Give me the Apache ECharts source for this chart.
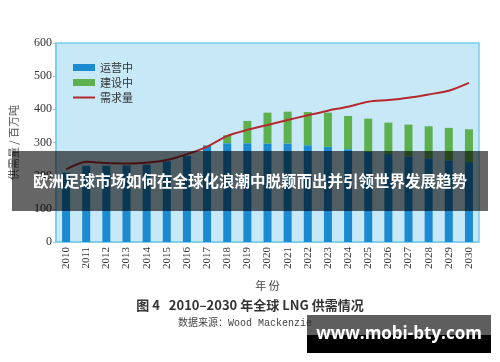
<!DOCTYPE html>
<html>
<head>
<meta charset="utf-8">
<script src="https://cdn.jsdelivr.net/npm/echarts@6/dist/echarts.min.js"></script>
<style>
html,body{margin:0;padding:0;background:#fff;}
#c{width:500px;height:362px;}
</style>
</head>
<body>
<div id="c"></div>
<script>
var years = ['2010','2011','2012','2013','2014','2015','2016','2017','2018','2019','2020','2021','2022','2023','2024','2025','2026','2027','2028','2029','2030'];
var operating = [209,230,230,231,233,243,260,290,298,298,297,297,292,287,280,272,265,258,252,246,241];
var construction = [0,0,0,0,0,0,0,2,24,67,93,96,100,103,100,100,95,96,97,98,99];
var demand = [219,242,238,237,239,247,265,287,320,338,353,368,382,396,408,423,428,435,445,456,480];
var yTicks = [0,100,200,300,400,500,600];

var chart = echarts.init(document.getElementById('c'));
chart.setOption({
  animation: false,
  backgroundColor: '#ffffff',
  grid: {left: 53, right: 21, top: 43, bottom: 120, show: true, backgroundColor: '#c7e8f7', borderColor: '#7ccde9', borderWidth: 1.5},
  legend: {
    left: 68, top: 57, orient: 'vertical', itemGap: 4, itemWidth: 22, itemHeight: 7,
    textStyle: {fontFamily: 'Noto Sans CJK SC', fontSize: 11, color: '#333'},
    data: [{name:'运营中', icon:'rect'},{name:'建设中', icon:'rect'},
           {name:'需求量', icon:'path://M0,0L0.01,0L0.01,0.01ZM22,7L21.99,7L21.99,6.99ZM0,2.5L22,2.5L22,4.5L0,4.5Z', itemStyle:{color:'#b5282e'}}]
  },
  xAxis: {
    type: 'category', data: years, boundaryGap: true,
    name: '年 份', nameLocation: 'middle', nameGap: 38,
    nameTextStyle: {fontFamily: 'Noto Sans CJK SC', fontSize: 11, color: '#444'},
    axisLine: {lineStyle: {color: '#7ccde9', width: 1.5}},
    axisTick: {show: false},
    axisLabel: {rotate: 90, fontFamily: 'Liberation Serif', fontSize: 11, color: '#333', margin: 5}
  },
  yAxis: {
    type: 'value', min: 0, max: 600, interval: 100,
    name: '供需量 / 百万吨', nameLocation: 'middle', nameGap: 37, nameRotate: 90,
    nameTextStyle: {fontFamily: 'Noto Sans CJK SC', fontSize: 11, color: '#555'},
    axisLine: {show: true, lineStyle: {color: '#7ccde9', width: 1.5}},
    axisTick: {show: true, length: 3, lineStyle: {color: '#7ccde9'}},
    splitLine: {show: false},
    axisLabel: {fontFamily: 'Liberation Serif', fontSize: 12, color: '#333', margin: 4,
      formatter: function(v){ return yTicks.indexOf(v) >= 0 ? String(v) : ''; }}
  },
  series: [
    {name: '运营中', type: 'bar', stack: 's', data: operating, barWidth: 8, itemStyle: {color: '#1b8ad0'}},
    {name: '建设中', type: 'bar', stack: 's', data: construction, barWidth: 8, itemStyle: {color: '#5db04e'}},
    {name: '需求量', type: 'line', data: demand, smooth: 0.25, symbol: 'none', z: 5,
     lineStyle: {color: '#b5282e', width: 2}, itemStyle: {color: '#b5282e'}}
  ],
  graphic: [
    {type: 'text', left: 'center', top: 299, style: {text: '图 4   2010–2030 年全球 LNG 供需情况', font: 'bold 13px "Noto Sans CJK SC"', fill: '#333'}},
    {type: 'text', left: 178, top: 318, style: {text: '数据来源：Wood Mackenzie', font: '10px "Liberation Mono", "Noto Sans CJK SC"', fill: '#444'}},
    {type: 'rect', shape: {x: 12, y: 151, width: 476, height: 60}, style: {fill: 'rgba(0,0,0,0.6)'}, z: 100},
    {type: 'text', x: 250, y: 181, style: {text: '欧洲足球市场如何在全球化浪潮中脱颖而出并引领世界发展趋势', font: 'bold 15.5px "Noto Sans CJK SC"', fill: '#ffffff', align: 'center', verticalAlign: 'middle'}, z: 101},
    {type: 'rect', shape: {x: 307, y: 315, width: 184, height: 20}, style: {fill: 'rgba(40,40,40,0.75)'}, z: 100},
    {type: 'rect', shape: {x: 307, y: 335, width: 184, height: 18}, style: {fill: '#000000'}, z: 100},
    {type: 'text', x: 399, y: 334, style: {text: 'www.mobi-bty.com', font: 'bold 17px "Open Sans", "DejaVu Sans"', fill: '#ffffff', align: 'center', verticalAlign: 'middle'}, z: 101}
  ]
});
</script>
</body>
</html>
